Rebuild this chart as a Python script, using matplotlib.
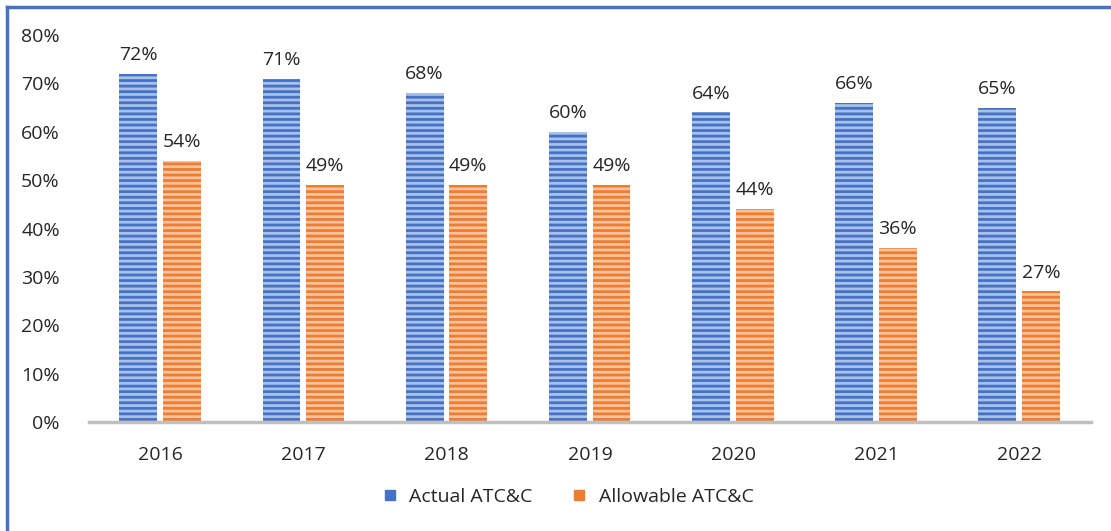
import numpy as np
import matplotlib.pyplot as plt
from matplotlib.lines import Line2D

years = ['2016', '2017', '2018', '2019', '2020', '2021', '2022']
actual = [72, 71, 68, 60, 64, 66, 65]
allowable = [54, 49, 49, 49, 44, 36, 27]

plt.rcParams['font.family'] = ['Open Sans', 'DejaVu Sans']
plt.rcParams['hatch.linewidth'] = 2.0

fig = plt.figure(figsize=(11.11, 5.31), dpi=100)
ax = fig.add_axes([89 / 1111, 1 - 422 / 531, 1002 / 1111, (422 - 35) / 531])

x = np.arange(len(years))
w = 0.265
b1 = ax.bar(x - 0.155, actual, w, color='#A9C0EA', edgecolor='#4472C4',
            hatch='---', linewidth=0, label='Actual ATC&C')
b2 = ax.bar(x + 0.15, allowable, w, color='#F8C29C', edgecolor='#ED7D31',
            hatch='---', linewidth=0, label='Allowable ATC&C')

for bars, vals in ((b1, actual), (b2, allowable)):
    for r, v in zip(bars, vals):
        ax.annotate(f'{v}%', (r.get_x() + r.get_width() / 2, v),
                    xytext=(0, 7), textcoords='offset points',
                    ha='center', va='bottom', fontsize=14, color='#262626')

ax.set_xlim(-0.5, len(years) - 0.5)
ax.set_ylim(0, 80)
ax.set_yticks(range(0, 81, 10))
ax.set_yticklabels([f'{t}%' for t in range(0, 81, 10)])
ax.set_xticks(x)
ax.set_xticklabels(years)
ax.tick_params(length=0, labelsize=14, labelcolor='#262626')
ax.tick_params(axis='x', pad=17)
ax.tick_params(axis='y', pad=21)
for s in ('top', 'right', 'left'):
    ax.spines[s].set_visible(False)
ax.spines['bottom'].set_color('#BFBFBF')
ax.spines['bottom'].set_linewidth(2.5)

handles = [Line2D([], [], marker='s', ls='', markersize=7, color='#4472C4'),
           Line2D([], [], marker='s', ls='', markersize=7, color='#ED7D31')]
fig.legend(handles, ['Actual ATC&C', 'Allowable ATC&C'], loc='center',
           bbox_to_anchor=(562 / 1111, 1 - 497 / 531), ncol=2, frameon=False,
           fontsize=14, handletextpad=0.0, columnspacing=1.4,
           labelcolor='#262626')

# frame lines along the top and left edge
fig.add_artist(Line2D([7 / 1111, 1], [1 - 7 / 531, 1 - 7 / 531],
                      transform=fig.transFigure, color='#4472C4', lw=2.5))
fig.add_artist(Line2D([7 / 1111, 7 / 1111], [0, 1 - 7 / 531],
                      transform=fig.transFigure, color='#4472C4', lw=2.5))

fig.savefig('out.png', dpi=100)
